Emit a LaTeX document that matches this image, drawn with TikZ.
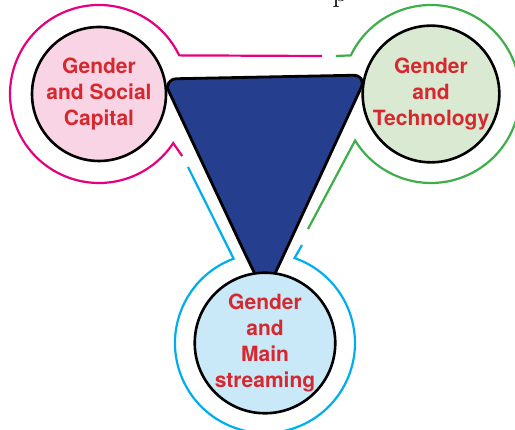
\documentclass[tikz,border=0pt]{standalone}
\usepackage{fontspec}
\newfontfamily\heros{TeX Gyre Heros}
\definecolor{ringpink}{HTML}{E5007D}
\definecolor{ringgreen}{HTML}{3DAE49}
\definecolor{ringblue}{HTML}{00AEEF}
\definecolor{fillpink}{HTML}{F9D4E4}
\definecolor{fillgreen}{HTML}{D9E9D2}
\definecolor{fillblue}{HTML}{C9E9F9}
\definecolor{navy}{HTML}{253F8E}
\definecolor{textred}{HTML}{D7282F}

\begin{document}
\begin{tikzpicture}[x=1pt, y=1pt,
        topic/.style={circle, draw=black, line width=2.6pt, minimum size=134pt,
          inner sep=0pt, align=center, text=textred,
          font=\heros\bfseries\fontsize{21}{26}\selectfont},
        ring/.style={line width=2.2pt}]
        \useasboundingbox (0,0) rectangle (515,430);
        \node[font=\fontsize{30}{30}\selectfont, anchor=base] (pg) at (340,428) {p};
        % outer rings
        \draw[ring, ringpink] (322,374) -- (179.2,374.6)
          arc[start angle=25.7, end angle=326.5, radius=89] -- ++(9,-13);
        \draw[ring, ringgreen] (336,374) -- (350.8,374.6)
          arc[start angle=154.3, end angle=-148.5, radius=89] -- (308,201);
        \draw[ring, ringblue] (188,263) -- (233.6,171.3)
          arc[start angle=110.4, end angle=430.8, radius=90] -- (302,185);
        % centre
        \filldraw[fill=navy, line width=2.8pt, rounded corners=14pt]
          (163,351) -- (367,355) -- (286.2,180.3) .. controls (265,135) .. (243.3,180) -- cycle;
        \node[topic, fill=fillpink] (social) at (99,336) {Gender\\and Social\\Capital};
        \node[topic, fill=fillgreen] (tech) at (431,336) {Gender\\and\\Technology};
        \node[topic, fill=fillblue] (main) at (265,87) {Gender\\and\\Main\\streaming};
\end{tikzpicture}
\end{document}
